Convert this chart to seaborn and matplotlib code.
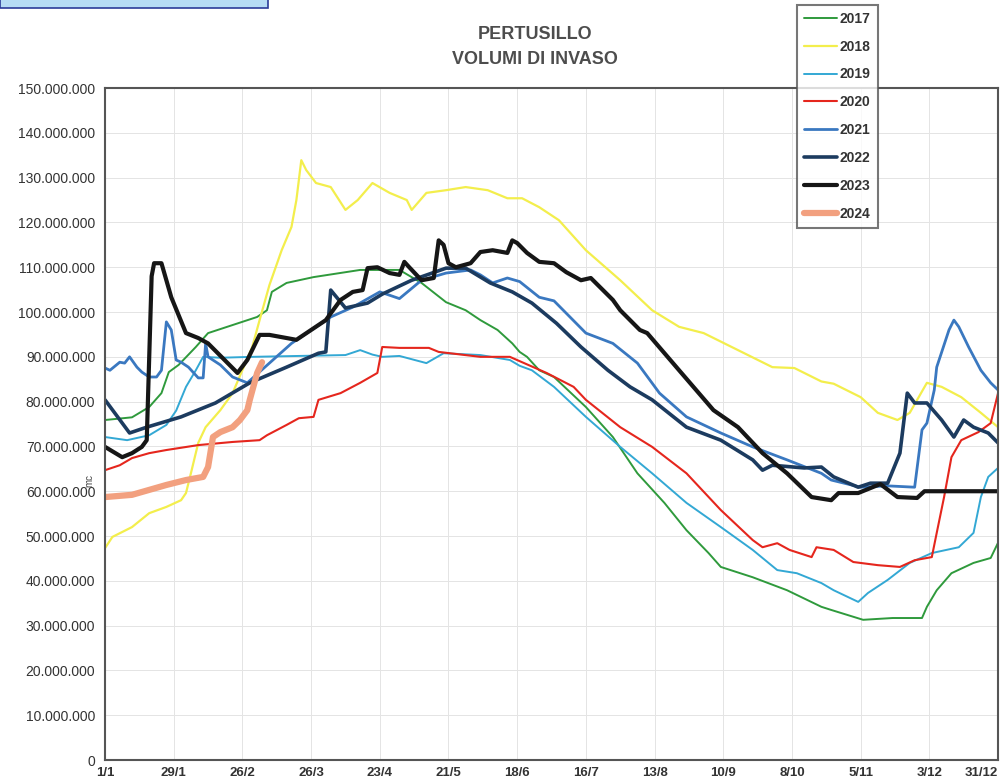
import matplotlib
matplotlib.use("Agg")
import matplotlib.pyplot as plt
import seaborn as sns
import pandas as pd
from matplotlib.patches import Rectangle
from matplotlib.ticker import FuncFormatter
from matplotlib.transforms import ScaledTranslation

sns.set_style("white")
plt.rcParams["font.family"] = ["Liberation Sans", "DejaVu Sans"]

# x axis: day of year (0 = 1/1), ticks every 4 weeks
TICK_DAYS = list(range(0, 365, 28))
TICK_LABELS = ["1/1", "29/1", "26/2", "26/3", "23/4", "21/5", "18/6",
               "16/7", "13/8", "10/9", "8/10", "5/11", "3/12", "31/12"]

# volumes in millions of m3
days_2017 = [0, 11, 18, 23, 26, 30, 37, 42, 52, 62, 66, 68, 74, 85, 104, 120, 129, 139, 147, 153,
             160, 166, 169, 172, 177, 183, 196, 207, 217, 228, 237, 246, 251, 264, 278, 292, 296, 309, 321, 333,
             335, 339, 345, 354, 361, 364]
vol_2017 = [75.9, 76.5, 78.8, 81.9, 86.6, 88.2, 92.2, 95.3, 97.1, 98.9, 100.4, 104.5, 106.5, 107.8, 109.4, 109.4, 106.5, 102.2, 100.4, 98.2,
            96.0, 93.0, 91.1, 90.0, 87.0, 85.5, 78.8, 72.1, 64.0, 57.4, 51.3, 46.2, 43.1, 40.8, 37.9, 34.2, 33.5, 31.3, 31.7, 31.7,
            34.2, 37.9, 41.7, 44.0, 45.1, 48.5]

days_2018 = [0, 3, 11, 18, 25, 31, 33, 35, 38, 41, 47, 52, 60, 63, 67, 72, 76, 78, 80, 82,
             86, 92, 98, 103, 109, 116, 123, 125, 131, 139, 147, 156, 164, 170, 177, 185, 196, 210, 223, 234,
             244, 258, 272, 281, 292, 297, 308, 315, 323, 328, 335, 341, 349, 357, 364]
vol_2018 = [47.3, 49.8, 52.0, 55.1, 56.5, 58.0, 59.6, 64.0, 70.8, 74.3, 78.1, 81.9, 92.2, 98.2, 106.0, 113.8, 119.0, 125.0, 133.9, 131.7,
            128.8, 127.9, 122.8, 125.0, 128.8, 126.6, 125.0, 122.8, 126.6, 127.2, 127.9, 127.2, 125.4, 125.4, 123.4, 120.5, 113.8, 107.1, 100.4, 96.7,
            95.3, 91.5, 87.7, 87.5, 84.5, 84.0, 81.0, 77.5, 75.9, 77.5, 84.2, 83.3, 81.0, 77.5, 74.3]

days_2019 = [0, 9, 18, 25, 29, 33, 37, 40, 47, 60, 79, 98, 104, 109, 113, 120, 131, 138, 153, 165,
             169, 174, 183, 196, 210, 223, 237, 251, 264, 274, 282, 292, 297, 307, 311, 319, 328, 337, 348, 354,
             357, 360, 364]
vol_2019 = [72.1, 71.4, 72.5, 74.8, 78.0, 83.3, 87.0, 90.0, 89.8, 90.0, 90.2, 90.4, 91.5, 90.5, 90.0, 90.2, 88.6, 90.8, 90.4, 89.3,
            88.0, 87.0, 83.3, 76.6, 69.9, 64.0, 57.4, 52.0, 46.9, 42.4, 41.7, 39.5, 37.9, 35.3, 37.3, 40.2, 44.0, 46.2, 47.5, 50.7,
            58.7, 63.2, 65.2]

days_2020 = [0, 6, 11, 18, 25, 38, 52, 63, 66, 74, 79, 85, 87, 96, 104, 111, 113, 120, 132, 136,
             153, 165, 170, 180, 191, 196, 210, 223, 237, 251, 264, 268, 274, 279, 288, 290, 297, 305, 315, 324,
             330, 337, 339, 342, 345, 349, 356, 361, 364]
vol_2020 = [64.7, 65.8, 67.4, 68.5, 69.2, 70.3, 71.0, 71.4, 72.5, 74.8, 76.3, 76.6, 80.4, 81.9, 84.2, 86.4, 92.2, 92.0, 92.0, 91.1,
            90.0, 90.0, 88.8, 86.4, 83.3, 80.4, 74.3, 69.9, 64.0, 55.8, 49.1, 47.5, 48.4, 46.9, 45.3, 47.5, 46.9, 44.2, 43.5, 43.1,
            44.6, 45.3, 50.7, 58.7, 67.6, 71.4, 73.2, 75.2, 81.9]

days_2021 = [0, 2, 6, 8, 10, 13, 15, 18, 21, 23, 25, 27, 29, 31, 34, 38, 40, 41, 42, 47,
             52, 58, 76, 92, 101, 112, 120, 129, 139, 149, 153, 158, 164, 169, 177, 183, 196, 207, 217, 226,
             237, 251, 264, 278, 292, 296, 308, 319, 330, 333, 335, 338, 339, 344, 346, 348, 352, 357, 361, 364]
vol_2021 = [87.5, 87.0, 88.8, 88.6, 90.0, 87.7, 86.6, 85.5, 85.5, 87.0, 97.8, 96.0, 89.3, 88.8, 87.7, 85.3, 85.3, 93.0, 90.0, 88.2,
            85.5, 84.2, 93.0, 98.9, 101.1, 104.5, 103.0, 107.1, 108.7, 109.4, 108.3, 106.5, 107.6, 106.8, 103.3, 102.5, 95.3, 93.0, 88.6, 81.9,
            76.6, 73.0, 69.9, 67.0, 64.0, 62.5, 60.9, 61.2, 60.9, 73.7, 75.2, 82.6, 87.7, 96.0, 98.2, 96.7, 92.2, 87.0, 84.2, 82.6]

days_2022 = [0, 10, 17, 31, 45, 59, 74, 87, 90, 92, 98, 107, 113, 125, 139, 147, 157, 166, 174, 184,
             194, 205, 214, 223, 237, 251, 264, 268, 272, 285, 292, 297, 307, 312, 319, 324, 327, 330, 335, 341,
             346, 350, 354, 360, 364]
vol_2022 = [80.4, 73.0, 74.3, 76.6, 79.7, 84.2, 87.7, 90.8, 91.1, 104.9, 100.9, 102.0, 104.0, 107.1, 109.8, 109.8, 106.5, 104.5, 102.0, 97.5,
            92.2, 87.0, 83.3, 80.4, 74.3, 71.4, 67.0, 64.7, 65.8, 65.2, 65.4, 63.2, 60.9, 61.8, 61.8, 68.5, 81.9, 79.7, 79.7, 75.9,
            72.1, 75.9, 74.3, 73.0, 70.8]

days_2023 = [0, 7, 11, 15, 17, 19, 20, 23, 27, 33, 38, 42, 54, 58, 63, 67, 78, 90, 96, 101,
             105, 107, 111, 116, 120, 122, 124, 129, 134, 136, 138, 140, 143, 149, 153, 158, 164, 166, 168, 172,
             177, 183, 188, 194, 198, 207, 210, 218, 221, 234, 248, 258, 268, 278, 288, 296, 299, 307, 316, 323,
             331, 334, 364]
vol_2023 = [69.9, 67.6, 68.5, 69.9, 71.4, 108.0, 110.9, 110.9, 103.3, 95.3, 94.2, 93.0, 86.4, 89.3, 94.9, 94.9, 93.8, 98.2, 102.7, 104.5,
            104.9, 109.8, 110.0, 108.7, 108.3, 111.2, 110.0, 107.1, 107.6, 116.0, 115.0, 110.9, 110.0, 110.9, 113.4, 113.8, 113.2, 116.0, 115.4, 113.2,
            111.2, 110.9, 108.9, 107.1, 107.6, 102.7, 100.4, 96.0, 95.3, 87.0, 78.1, 74.3, 68.5, 64.0, 58.7, 58.0, 59.6, 59.6, 61.6, 58.7,
            58.5, 60.0, 60.0]

days_2024 = [0, 11, 18, 25, 33, 40, 42, 44, 47, 52, 55, 58, 59, 62, 64]
vol_2024 = [58.7, 59.2, 60.3, 61.4, 62.5, 63.2, 65.4, 72.1, 73.2, 74.3, 75.9, 78.1, 80.4, 86.4, 88.8]

series = [
    ("2017", days_2017, vol_2017, "#2f9a3c", 1.4),
    ("2018", days_2018, vol_2018, "#f3ee4c", 1.6),
    ("2019", days_2019, vol_2019, "#33a8d4", 1.4),
    ("2020", days_2020, vol_2020, "#e5261d", 1.5),
    ("2021", days_2021, vol_2021, "#3a78c0", 2.0),
    ("2022", days_2022, vol_2022, "#1c3b5f", 2.6),
    ("2023", days_2023, vol_2023, "#161616", 3.0),
    ("2024", days_2024, vol_2024, "#f2a07f", 4.5),
]

fig = plt.figure(figsize=(10.06, 7.82), dpi=100)
fig.patch.set_facecolor("white")
ax = fig.add_axes([0.1044, 0.0281, 0.8877, 0.8593])

for year, d, v, col, lw in series:
    df = pd.DataFrame({"day": d, "mc": v})
    sns.lineplot(data=df, x="day", y="mc", ax=ax, color=col, linewidth=lw,
                 label=year, sort=False, estimator=None)

ax.set_xlim(0, 364)
ax.set_ylim(0, 150)
ax.set_xticks(TICK_DAYS)
ax.set_xticklabels(TICK_LABELS, fontsize=9.5, fontweight="bold", color="#333333")
# last label sits at the figure edge: pull it inside
last = ax.get_xticklabels()[-1]
last.set_horizontalalignment("right")
last.set_transform(last.get_transform() + ScaledTranslation(0.09, 0, fig.dpi_scale_trans))
ax.set_yticks(range(0, 151, 10))
ax.yaxis.set_major_formatter(FuncFormatter(
    lambda y, p: "{:,.0f}".format(y * 1e6).replace(",", ".")))
ax.tick_params(axis="y", labelsize=10, labelcolor="#333333", length=3, color="#888888", pad=4)
ax.tick_params(axis="x", length=3, color="#888888", pad=2)
ax.set_xlabel("")
ax.set_ylabel("")
ax.grid(True, color="#e4e4e4", linewidth=0.7)
for s in ax.spines.values():
    s.set_color("#555555")
    s.set_linewidth(1.5)

fig.text(0.089, 0.386, "mc", rotation=90, fontsize=7, color="#444444",
         ha="center", va="center")

fig.text(0.532, 0.940, "PERTUSILLO\nVOLUMI DI INVASO", ha="center", va="center",
         fontsize=13, fontweight="bold", color="#4d4d4d", linespacing=1.6)

handles, labels = ax.get_legend_handles_labels()
ax.get_legend().remove()
leg = fig.legend(handles, labels, loc="upper left", bbox_to_anchor=(0.792, 0.994),
                 borderaxespad=0, frameon=True, fancybox=False, handlelength=2.4,
                 handletextpad=0.2, labelspacing=1.0, borderpad=0.5,
                 prop={"weight": "bold", "size": 10})
leg.get_frame().set_edgecolor("#555555")
leg.get_frame().set_linewidth(1.5)
for t in leg.get_texts():
    t.set_color("#333333")

# scrap of the scanned page header in the corner
fig.patches.append(Rectangle((0, 0.99), 0.266, 0.02, transform=fig.transFigure,
                             facecolor="#b6dcf5", edgecolor="#2b3c99", linewidth=1.2))

fig.savefig("out.png", dpi=100)
